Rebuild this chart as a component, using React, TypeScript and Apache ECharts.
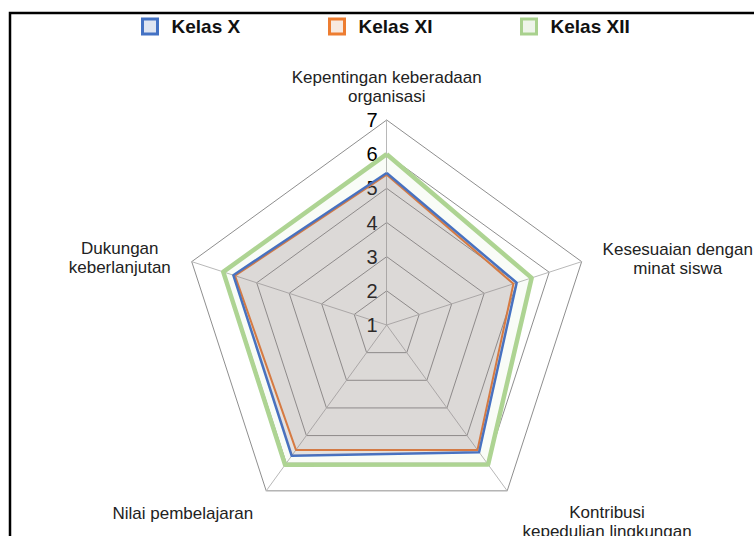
import React, { useEffect, useRef } from "react";
import * as echarts from "echarts";

const indicatorNames = [
  "Kepentingan keberadaan\norganisasi",
  "Dukungan\nkeberlanjutan",
  "Nilai pembelajaran",
  "Kontribusi\nkepedulian lingkungan",
  "Kesesuaian dengan\nminat siswa",
];
const axisMin = 1;
const axisMax = 7;

const seriesNames = ["Kelas X", "Kelas XI", "Kelas XII"];
// order: Kepentingan, Dukungan, Nilai, Kontribusi, Kesesuaian
const kelasX = [5.45, 5.72, 5.73, 5.6, 5.0];
const kelasXI = [5.4, 5.67, 5.52, 5.52, 4.9];
const kelasXII = [6.0, 6.03, 6.06, 6.05, 5.46];

const FONT = "'Liberation Sans', Arial, sans-serif";

// label layout tweaks per indicator (name gap and downward shift)
const nameGaps = [14, 22, 22, 26, 22];
const nameShift = [0, 3, 5, 10, 4];

export default function App() {
  const ref = useRef<HTMLDivElement>(null);
  useEffect(() => {
    if (!ref.current) return;
    const chart = echarts.init(ref.current, undefined, { renderer: "svg" });

    const legendDef = (name: string, left: number, border: string, fill: string) => ({
      data: [name],
      left,
      top: 12,
      icon: "rect",
      itemWidth: 15,
      itemHeight: 15,
      itemStyle: { color: fill, borderColor: border, borderWidth: 3 },
      textStyle: {
        fontFamily: FONT,
        fontWeight: "bold",
        fontSize: 19,
        color: "#111",
        padding: [0, 0, 0, 9],
      },
      selectedMode: false,
    });

    const rich: Record<string, any> = {
      c: {
        align: "center",
        fontFamily: FONT,
        fontSize: 17,
        lineHeight: 19,
        color: "#222",
      },
    };
    nameShift.forEach((s, i) => {
      rich["s" + i] = {
        align: "center",
        fontFamily: FONT,
        fontSize: 4,
        lineHeight: Math.max(1, s * 2),
        color: "#222",
      };
    });

    chart.setOption({
      animation: false,
      backgroundColor: "#fff",
      graphic: [
        {
          type: "rect",
          shape: { x: 10, y: 13, width: 800, height: 600 },
          style: { fill: "none", stroke: "#000", lineWidth: 2.5 },
          silent: true,
        },
      ],
      legend: [
        legendDef(seriesNames[0], 136, "#4472c4", "#dfe5f1"),
        legendDef(seriesNames[1], 323, "#ed7d31", "#f7e9e0"),
        legendDef(seriesNames[2], 515, "#a9d18e", "#eef4ea"),
      ],
      radar: {
        center: [386.7, 325],
        radius: 205,
        splitNumber: 6,
        shape: "polygon",
        nameGap: 22,
        axisName: {
          color: "#222",
          fontFamily: FONT,
          fontSize: 17,
          lineHeight: 19,
          formatter: (name: string) => {
            const idx = indicatorNames.indexOf(name);
            const lines = name.split("\n").map((l) => `{c|${l}}`);
            if (nameShift[idx] > 0) lines.unshift(`{s${idx}| }`);
            return lines.join("\n");
          },
          rich,
        },
        splitArea: { show: false },
        splitLine: { lineStyle: { color: "#8e8e8e", width: 1 } },
        axisLine: { lineStyle: { color: "#b8b8b8", width: 1 } },
        axisTick: { show: false },
        axisLabel: { show: false },
        indicator: indicatorNames.map((name, i) => ({
          name,
          min: axisMin,
          max: axisMax,
          nameGap: nameGaps[i],
          ...(i === 0
            ? {
                axisLabel: {
                  show: true,
                  color: "#000",
                  fontFamily: FONT,
                  fontSize: 20,
                  margin: 9,
                },
              }
            : {}),
        })),
      },
      series: [
        {
          type: "radar",
          symbol: "none",
          silent: true,
          data: [
            {
              name: seriesNames[2],
              value: kelasXII,
              lineStyle: { color: "#aed493", width: 4.5 },
              itemStyle: { color: "#a9d18e" },
              areaStyle: { color: "rgba(169,209,142,0.1)" },
            },
            {
              name: seriesNames[1],
              value: kelasXI,
              lineStyle: { color: "#ed7d31", width: 2 },
              itemStyle: { color: "#ed7d31" },
              areaStyle: { color: "rgba(140,118,129,0.13)" },
            },
            {
              name: seriesNames[0],
              value: kelasX,
              lineStyle: { color: "#4472c4", width: 2.5 },
              itemStyle: { color: "#4472c4" },
              areaStyle: { color: "rgba(140,118,129,0.27)" },
            },
          ],
        },
      ],
    });
    return () => chart.dispose();
  }, []);
  return (
    <div
      ref={ref}
      style={{ position: "fixed", left: 0, top: 0, width: 754, height: 536 }}
    />
  );
}
